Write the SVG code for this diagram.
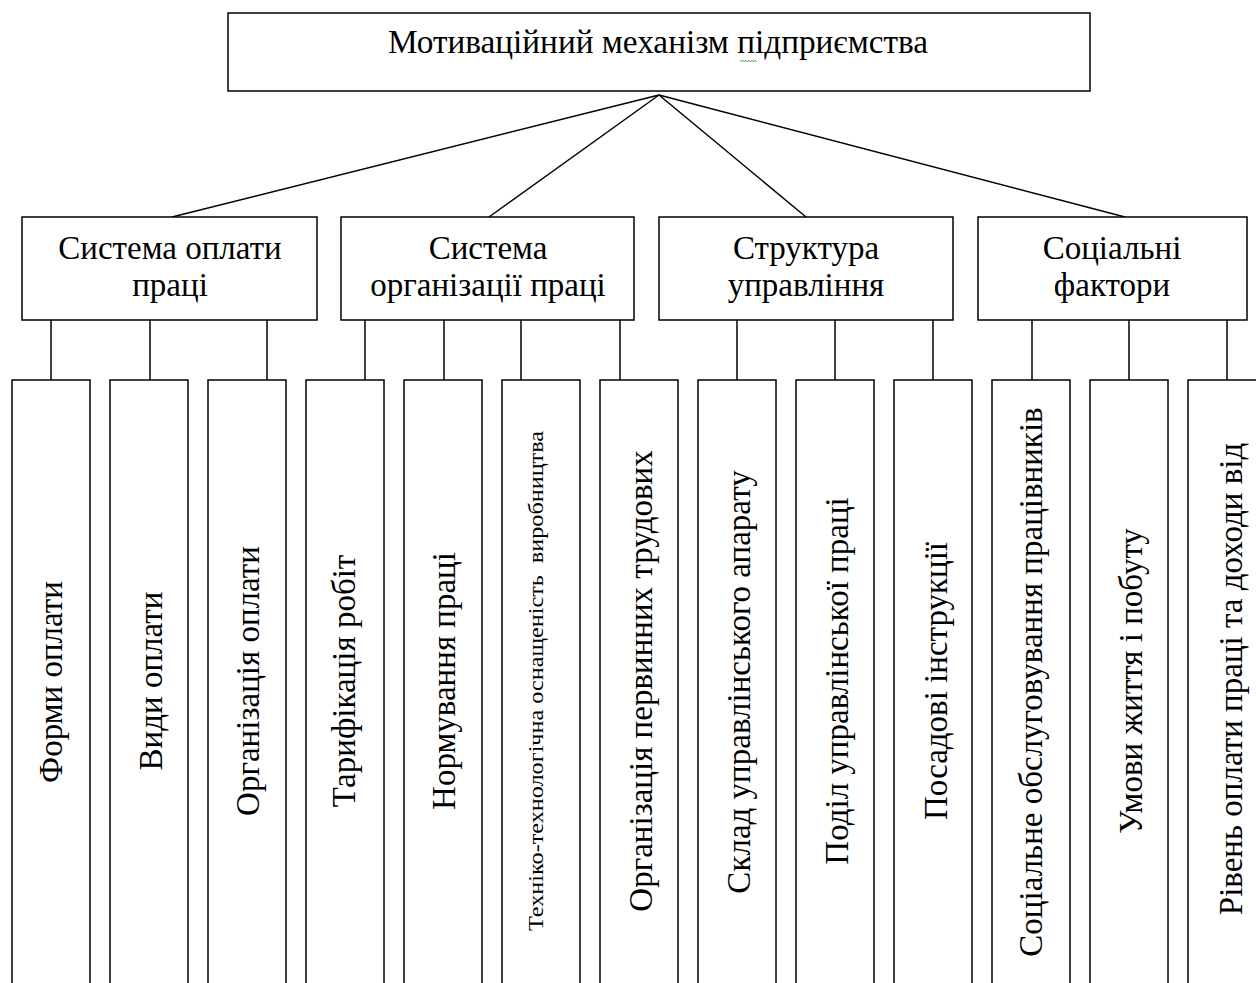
<svg xmlns="http://www.w3.org/2000/svg" width="1256" height="983" viewBox="0 0 1256 983">
<style>
.box{fill:#fff;stroke:#000;stroke-width:1.5}
.ln{stroke:#000;stroke-width:1.5;fill:none}
.t{font-family:"Liberation Serif","Times New Roman",serif;fill:#000;text-anchor:middle}
.h{font-size:33px}
.m{font-size:33px}
.v{font-size:33px}
.s{font-size:22px}
</style>
<rect width="1256" height="983" fill="#fff"/>
<g id="connectors" class="ln">
<line x1="659" y1="95" x2="172" y2="217"/>
<line x1="659" y1="95" x2="489" y2="217"/>
<line x1="659" y1="95" x2="806" y2="217"/>
<line x1="659" y1="95" x2="1125" y2="217"/>
<line x1="51" y1="320" x2="51" y2="380"/>
<line x1="150" y1="320" x2="150" y2="380"/>
<line x1="267" y1="320" x2="267" y2="380"/>
<line x1="365" y1="320" x2="365" y2="380"/>
<line x1="444" y1="320" x2="444" y2="380"/>
<line x1="521" y1="320" x2="521" y2="380"/>
<line x1="620" y1="320" x2="620" y2="380"/>
<line x1="737" y1="320" x2="737" y2="380"/>
<line x1="835" y1="320" x2="835" y2="380"/>
<line x1="933" y1="320" x2="933" y2="380"/>
<line x1="1032" y1="320" x2="1032" y2="380"/>
<line x1="1129" y1="320" x2="1129" y2="380"/>
<line x1="1227" y1="320" x2="1227" y2="380"/>
</g>
<g id="root">
<rect class="box" x="228" y="13" width="862" height="78"/>
<text class="t h" x="658" y="53" textLength="540" lengthAdjust="spacingAndGlyphs">Мотиваційний механізм підприємства</text>
<path d="M740 60 l1.5 2 l1.5 -2 l1.5 2 l1.5 -2 l1.5 2 l1.5 -2 l1.5 2 l1.5 -2 l1.5 2 l1.5 -2 l1.5 2" fill="none" stroke="#3a9a3a" stroke-width="0.8"/>
</g>
<g id="n1">
<rect class="box" x="22" y="217" width="295" height="103"/>
<text class="t m" x="170" y="259">Система оплати</text>
<text class="t m" x="170" y="296">праці</text>
</g>
<g id="n2">
<rect class="box" x="341" y="217" width="293" height="103"/>
<text class="t m" x="488" y="259">Система</text>
<text class="t m" x="488" y="296">організації праці</text>
</g>
<g id="n3">
<rect class="box" x="659" y="217" width="294" height="103"/>
<text class="t m" x="806" y="259">Структура</text>
<text class="t m" x="806" y="296">управління</text>
</g>
<g id="n4">
<rect class="box" x="978" y="217" width="269" height="103"/>
<text class="t m" x="1112" y="259">Соціальні</text>
<text class="t m" x="1112" y="296">фактори</text>
</g>
<g id="b1"><rect class="box" x="12" y="380" width="78" height="620"/><text class="t v" transform="translate(62 682) rotate(-90)">Форми оплати</text></g>
<g id="b2"><rect class="box" x="110" y="380" width="78" height="620"/><text class="t v" transform="translate(162 681) rotate(-90)">Види оплати</text></g>
<g id="b3"><rect class="box" x="208" y="380" width="78" height="620"/><text class="t v" transform="translate(259 681) rotate(-90)">Організація оплати</text></g>
<g id="b4"><rect class="box" x="306" y="380" width="78" height="620"/><text class="t v" transform="translate(355 681) rotate(-90)">Тарифікація робіт</text></g>
<g id="b5"><rect class="box" x="404" y="380" width="78" height="620"/><text class="t v" transform="translate(455 681) rotate(-90)">Нормування праці</text></g>
<g id="b6"><rect class="box" x="502" y="380" width="78" height="620"/><text class="t s" transform="translate(543 681) rotate(-90)" textLength="500" lengthAdjust="spacingAndGlyphs" xml:space="preserve">Техніко-технологічна оснащеність  виробництва</text></g>
<g id="b7"><rect class="box" x="600" y="380" width="78" height="620"/><text class="t v" transform="translate(652 681) rotate(-90)">Організація первинних трудових</text></g>
<g id="b8"><rect class="box" x="698" y="380" width="78" height="620"/><text class="t v" transform="translate(750 682) rotate(-90)">Склад управлінського апарату</text></g>
<g id="b9"><rect class="box" x="796" y="380" width="78" height="620"/><text class="t v" transform="translate(848 681) rotate(-90)">Поділ управлінської праці</text></g>
<g id="b10"><rect class="box" x="894" y="380" width="78" height="620"/><text class="t v" transform="translate(947 681) rotate(-90)">Посадові інструкції</text></g>
<g id="b11"><rect class="box" x="992" y="380" width="78" height="620"/><text class="t v" transform="translate(1042 682) rotate(-90)">Соціальне обслуговування працівників</text></g>
<g id="b12"><rect class="box" x="1090" y="380" width="78" height="620"/><text class="t v" transform="translate(1142 681) rotate(-90)">Умови життя і побуту</text></g>
<g id="b13"><rect class="box" x="1188" y="380" width="78" height="620"/><text class="t v" transform="translate(1242 679) rotate(-90)">Рівень оплати праці та доходи від</text></g>
</svg>
